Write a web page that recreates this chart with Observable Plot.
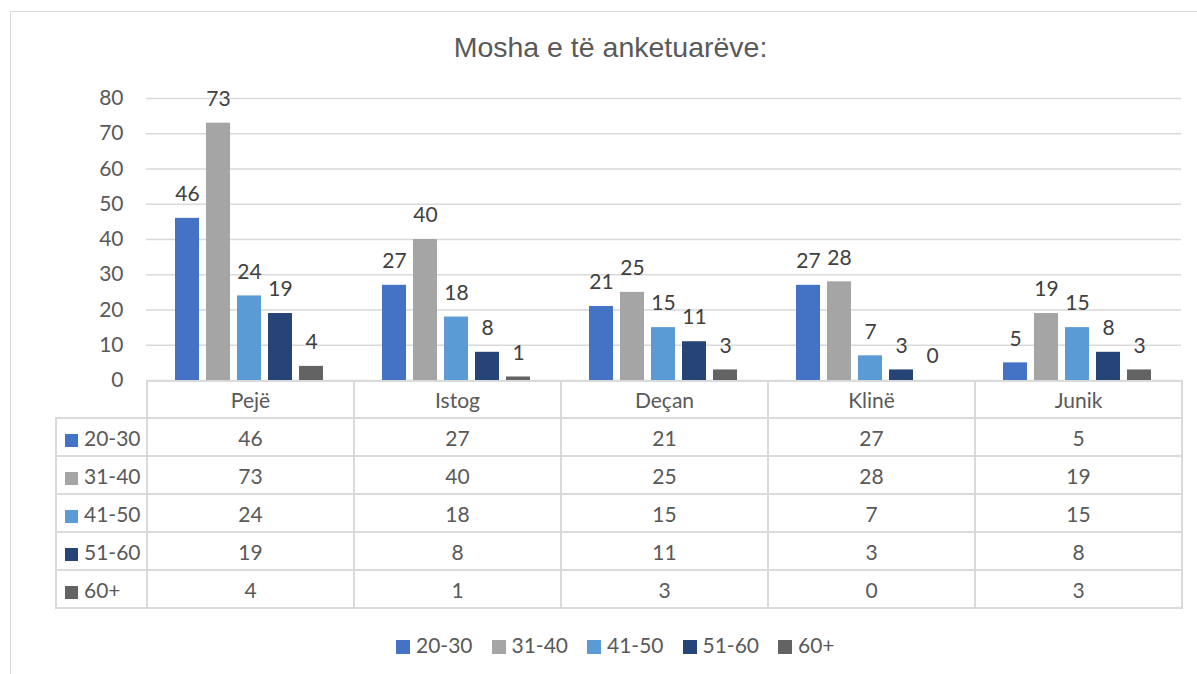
<!DOCTYPE html>
<html>
<head>
<meta charset="utf-8">
<script src="https://cdn.jsdelivr.net/npm/d3@7"></script>
<script src="https://cdn.jsdelivr.net/npm/@observablehq/plot@0.6"></script>
<style>
  body { margin: 0; background: #fff; }
  #wrap { position: relative; width: 1197px; height: 674px; overflow: hidden; background: #fff; font-family: Lato, "Noto Sans", sans-serif; }
  #frame { position: absolute; left: 10px; top: 11px; width: 1400px; height: 800px; border: 1.5px solid #d9d9d9; box-sizing: border-box; }
  #title { position: absolute; top: 31px; left: 0; width: 1221px; text-align: center; font-family: "Liberation Sans", Arial, sans-serif; font-size: 28.5px; color: #595959; }
  #chart { position: absolute; left: 0; top: 0; }
  table { position: absolute; left: 55px; top: 380px; border-collapse: collapse; table-layout: fixed; font-size: 21px; color: #595959; }
  td { border: 2px solid #dadada; text-align: center; padding: 0; }
  tr.head td { height: 35px; }
  tr.row td { height: 36px; }
  td.blank { border-top: none; border-left: none; }
  td.key { text-align: left; padding-left: 8px; white-space: nowrap; }
  .sw { display: inline-block; width: 13px; height: 13px; margin-right: 6px; vertical-align: -1px; }
  #legend { position: absolute; left: 396px; top: 632px; font-size: 21px; color: #595959; white-space: nowrap; }
  #legend span.item { display: inline-block; width: 95.5px; }
  #legend .sw { width: 14px; height: 14px; }
</style>
</head>
<body>
<div id="wrap">
  <div id="frame"></div>
  <div id="chart"></div>
  <div id="title"></div>
  <table id="tbl"></table>
  <div id="legend"></div>
</div>
<script>
const title = "Mosha e të anketuarëve:";
const categories = ["Pejë", "Istog", "Deçan", "Klinë", "Junik"];
const series = ["20-30", "31-40", "41-50", "51-60", "60+"];
const v20_30 = [46, 27, 21, 27, 5];
const v31_40 = [73, 40, 25, 28, 19];
const v41_50 = [24, 18, 15, 7, 15];
const v51_60 = [19, 8, 11, 3, 8];
const v60plus = [4, 1, 3, 0, 3];
const yTicks = [0, 10, 20, 30, 40, 50, 60, 70, 80];
const colors = ["#4472C4", "#A5A5A5", "#5B9BD5", "#264478", "#636363"];

const seriesValues = [v20_30, v31_40, v41_50, v51_60, v60plus];
const rows = [];
categories.forEach((c, i) => {
  series.forEach((s, j) => rows.push({city: c, age: s, value: seriesValues[j][i]}));
});

document.getElementById("title").textContent = title;

const chart = Plot.plot({
  width: 1197,
  height: 381,
  marginLeft: 146,
  marginRight: 16,
  marginTop: 98,
  marginBottom: 1,
  style: {fontFamily: "Lato, 'Noto Sans', sans-serif", fontSize: "21px", background: "transparent", overflow: "visible"},
  fx: {domain: categories, padding: 0, axis: null},
  x: {domain: series, paddingInner: 0.21, paddingOuter: 0.87, axis: null},
  y: {domain: [0, 80]},
  color: {domain: series, range: colors},
  marks: [
    Plot.gridY(yTicks, {stroke: "#d9d9d9", strokeOpacity: 1, strokeWidth: 1.5}),
    Plot.axisY(yTicks, {tickSize: 0, tickPadding: 23, label: null, fill: "#595959", fontSize: 21}),
    Plot.barY(rows, {fx: "city", x: "age", y: "value", fill: "age"}),
    Plot.text(rows, {fx: "city", x: "age", y: "value", text: d => String(d.value), dy: -24, fill: "#404040", fontSize: 21})
  ]
});
document.getElementById("chart").appendChild(chart);

// data table
const tbl = document.getElementById("tbl");
const colgroup = document.createElement("colgroup");
[91, 207, 207, 207, 207, 207].forEach(w => {
  const col = document.createElement("col");
  col.style.width = w + "px";
  colgroup.appendChild(col);
});
tbl.appendChild(colgroup);
const head = document.createElement("tr");
head.className = "head";
const blank = document.createElement("td");
blank.className = "blank";
head.appendChild(blank);
categories.forEach(c => {
  const td = document.createElement("td");
  td.textContent = c;
  head.appendChild(td);
});
tbl.appendChild(head);
series.forEach((s, j) => {
  const tr = document.createElement("tr");
  tr.className = "row";
  const key = document.createElement("td");
  key.className = "key";
  key.innerHTML = `<span class="sw" style="background:${colors[j]}"></span>${s}`;
  tr.appendChild(key);
  seriesValues[j].forEach(v => {
    const td = document.createElement("td");
    td.textContent = v;
    tr.appendChild(td);
  });
  tbl.appendChild(tr);
});

// legend
const legend = document.getElementById("legend");
series.forEach((s, j) => {
  const item = document.createElement("span");
  item.className = "item";
  item.innerHTML = `<span class="sw" style="background:${colors[j]}"></span>${s}`;
  legend.appendChild(item);
});
</script>
</body>
</html>
